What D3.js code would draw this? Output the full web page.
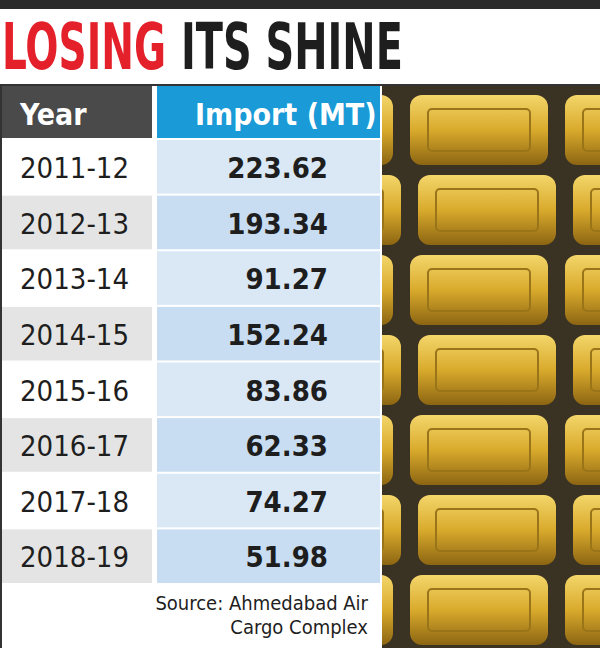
<!DOCTYPE html>
<html><head><meta charset="utf-8">
<script src="https://cdn.jsdelivr.net/npm/d3@7"></script>
<style>body{margin:0;background:#fff}</style>
</head><body>
<script>
const years = ['2011-12', '2012-13', '2013-14', '2014-15', '2015-16', '2016-17', '2017-18', '2018-19'];
const imports = [223.62, 193.34, 91.27, 152.24, 83.86, 62.33, 74.27, 51.98];
const headers = ['Year', 'Import (MT)'];

const W = 600, H = 648;
const font = '"DejaVu Sans Condensed", "DejaVu Sans", sans-serif';
const svg = d3.select('body').append('svg').attr('width', W).attr('height', H);

// top rule
svg.append('rect').attr('width', W).attr('height', 9).attr('fill', '#2b2b2b');

// title: each word squeezed horizontally to the reference width
function titleWord(txt, x, w, color) {
    const t = svg.append('text').attr('y', 69).attr('fill', color)
        .attr('font-family', font).attr('font-weight', 'bold').attr('font-size', 64).text(txt);
    const k = w / t.node().getComputedTextLength();
    t.attr('transform', `translate(${x},0) scale(${k},1)`);
}
titleWord('LOSING', 2, 164, '#e4202a');
titleWord('ITS SHINE', 181, 222, '#1e1e1e');

// photo area stand-in
const photo = svg.append('g');
photo.append('rect').attr('x', 380).attr('y', 84).attr('width', 220).attr('height', 564).attr('fill', '#3a3222');
const bars = [];
for (let r = 0; r < 7; r++) {
    for (let c = -1; c < 2; c++) {
        bars.push({x: 410 + c * 155 + (r % 2) * 8, y: 95 + r * 80});
    }
}
const grad = svg.append('defs').append('linearGradient').attr('id', 'gold')
    .attr('x1', 0).attr('y1', 0).attr('x2', 0).attr('y2', 1);
grad.append('stop').attr('offset', 0).attr('stop-color', '#f3d66a');
grad.append('stop').attr('offset', 0.5).attr('stop-color', '#d9aa2c');
grad.append('stop').attr('offset', 1).attr('stop-color', '#8c6512');
photo.selectAll('rect.bar').data(bars).join('rect').attr('class', 'bar')
    .attr('x', d => d.x).attr('y', d => d.y).attr('width', 138).attr('height', 70)
    .attr('rx', 12).attr('fill', 'url(#gold)');
photo.selectAll('rect.stamp').data(bars).join('rect').attr('class', 'stamp')
    .attr('x', d => d.x + 18).attr('y', d => d.y + 14).attr('width', 102).attr('height', 42)
    .attr('rx', 4).attr('fill', 'none').attr('stroke', '#9a7418').attr('stroke-width', 2);

// table
const y = d3.scaleBand().domain(years).range([138, 583]);
svg.append('rect').attr('x', 0).attr('y', 84).attr('width', 382).attr('height', 564).attr('fill', '#fff');
svg.append('rect').attr('x', 2).attr('y', 86).attr('width', 150).attr('height', 52).attr('fill', '#4a4a4a');
svg.append('rect').attr('x', 157).attr('y', 86).attr('width', 223).attr('height', 52).attr('fill', '#1a9ad6');
svg.append('text').attr('x', 20).attr('y', 125).attr('fill', '#fff').attr('font-family', font)
    .attr('font-weight', 'bold').attr('font-size', 30).text(headers[0]);
svg.append('text').attr('x', 195).attr('y', 125).attr('fill', '#fff').attr('font-family', font)
    .attr('font-weight', 'bold').attr('font-size', 30).text(headers[1]);

const rows = svg.selectAll('g.row').data(years).join('g').attr('class', 'row')
    .attr('transform', d => `translate(0,${y(d)})`);
rows.append('rect').attr('x', 2).attr('y', 2).attr('width', 150).attr('height', y.bandwidth() - 2)
    .attr('fill', (d, i) => i % 2 ? '#e4e4e4' : '#fff');
rows.append('rect').attr('x', 157).attr('y', 2).attr('width', 223).attr('height', y.bandwidth() - 2)
    .attr('fill', (d, i) => i % 2 ? '#c8ddf1' : '#dae8f5');
rows.append('text').attr('x', 20).attr('y', 40).attr('fill', '#1e1e1e').attr('font-family', font)
    .attr('font-size', 29).text(d => d);
rows.append('text').attr('x', 328).attr('y', 40).attr('text-anchor', 'end').attr('fill', '#1e1e1e')
    .attr('font-family', font).attr('font-weight', 'bold').attr('font-size', 29)
    .text((d, i) => imports[i].toFixed(2));

// outer frame
svg.append('path').attr('d', 'M1,648V85H599').attr('fill', 'none').attr('stroke', '#333').attr('stroke-width', 2);

svg.append('text').attr('x', 368).attr('y', 610).attr('text-anchor', 'end').attr('font-family', font)
    .attr('font-size', 20).attr('fill', '#1e1e1e').text('Source: Ahmedabad Air');
svg.append('text').attr('x', 368).attr('y', 634).attr('text-anchor', 'end').attr('font-family', font)
    .attr('font-size', 20).attr('fill', '#1e1e1e').text('Cargo Complex');
</script>
</body></html>
